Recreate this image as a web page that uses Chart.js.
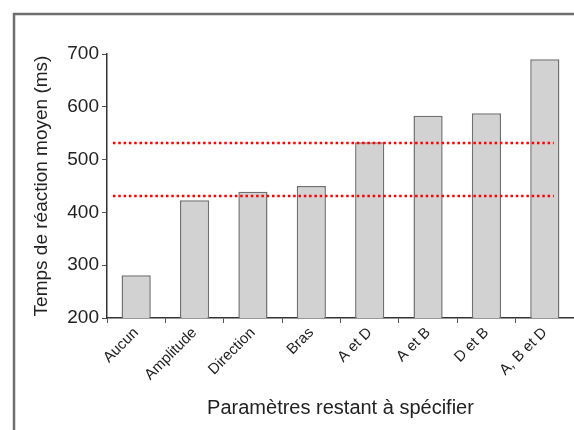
<!DOCTYPE html>
<html><head><meta charset="utf-8">
<script src="https://cdn.jsdelivr.net/npm/chart.js@4/dist/chart.umd.min.js"></script>
<style>html,body{margin:0;padding:0;background:#fff}#wrap{width:574px;height:430px;position:relative}</style>
</head><body><div id="wrap"><canvas id="c"></canvas></div>
<script>
const categories = ['Aucun','Amplitude','Direction','Bras','A et D','A et B','D et B','A, B et D'];
const reactionTimes = [281, 423, 439, 450, 533, 583, 588, 690];
const yTicks = [200, 300, 400, 500, 600, 700];
const referenceLines = [531, 431];

const frame = {
  id: 'frame',
  afterDraw(chart) {
    const ctx = chart.ctx;
    ctx.save();
    ctx.strokeStyle = '#6e6e6e';
    ctx.lineWidth = 2.5;
    ctx.beginPath();
    ctx.moveTo(14, 430); ctx.lineTo(14, 14); ctx.lineTo(574, 14);
    ctx.stroke();
    const y = chart.scales.y, x = chart.scales.x;
    const x0 = chart.chartArea.left + 6;
    const x1 = x.getPixelForValue(categories.length - 1) + 9;
    ctx.strokeStyle = '#ff0000';
    ctx.lineWidth = 2.5;
    ctx.setLineDash([2.5, 2.8]);
    referenceLines.forEach(v => {
      const py = Math.round(y.getPixelForValue(v));
      ctx.beginPath(); ctx.moveTo(x0, py); ctx.lineTo(x1, py); ctx.stroke();
    });
    ctx.restore();
  }
};

new Chart(document.getElementById('c'), {
  type: 'bar',
  data: { labels: categories, datasets: [{ data: reactionTimes, backgroundColor: '#d2d2d2', borderColor: '#707070', borderWidth: 1.5, barPercentage: 0.5, categoryPercentage: 1 }] },
  options: {
    responsive: true, maintainAspectRatio: false, animation: false,
    layout: { padding: { left: 27, top: 54, right: 0, bottom: 0 } },
    plugins: { legend: { display: false }, tooltip: { enabled: false } },
    scales: {
      x: {
        grid: { display: true, drawOnChartArea: false, offset: true, tickLength: 5, color: '#555' },
        border: { color: '#333', width: 1.5 },
        ticks: { minRotation: 45, maxRotation: 45, color: '#222', font: { family: 'Liberation Sans', size: 15 }, padding: 1 },
        title: { display: true, text: 'Paramètres restant à spécifier', color: '#222', font: { family: 'Liberation Sans', size: 20 }, padding: { top: 0, bottom: 10 } },
        afterFit(s) { s.height = 112; }
      },
      y: {
        min: 200, max: 700,
        afterBuildTicks(s) { s.ticks = yTicks.map(v => ({ value: v })); },
        grid: { display: true, drawOnChartArea: false, tickLength: 5, color: '#555' },
        border: { color: '#333', width: 1.5 },
        ticks: { color: '#222', font: { family: 'Liberation Sans', size: 19 }, padding: 3 },
        title: { display: true, text: 'Temps de réaction moyen (ms)', color: '#222', font: { family: 'Liberation Sans', size: 19 }, padding: { top: 3, bottom: 4 } },
        afterFit(s) { s.width = 80; }
      }
    }
  },
  plugins: [frame]
});
</script></body></html>
